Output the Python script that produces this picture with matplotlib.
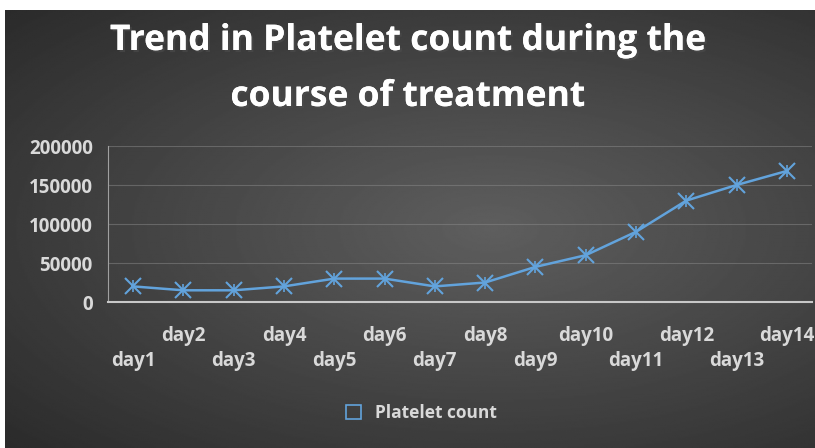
import numpy as np
import matplotlib
matplotlib.use('Agg')
import matplotlib.pyplot as plt
from matplotlib.patches import Patch
import matplotlib.patheffects as pe

days = ['day1', 'day2', 'day3', 'day4', 'day5', 'day6', 'day7',
        'day8', 'day9', 'day10', 'day11', 'day12', 'day13', 'day14']
platelets = [20000, 15000, 15000, 20000, 30000, 30000, 20000,
             25000, 45000, 60000, 90000, 130000, 150000, 168000]
yticks = [0, 50000, 100000, 150000, 200000]

lineColor = '#62a3dc'
textColor = '#d9d9d9'

fig = plt.figure(figsize=(8.15, 4.48), dpi=100)
fig.patch.set_facecolor('white')

# dark radial background panel
bg = fig.add_axes([5/815, 0, 1 - 5/815, 1 - 10/448])
bg.set_axis_off()
yy, xx = np.mgrid[0:1:300j, 0:1:500j]
r = np.sqrt(((xx - 0.6) / 0.9) ** 2 + ((yy - 0.5) / 0.8) ** 2)
shade = np.clip(0.37 - 0.22 * r, 0.17, 0.4)
bg.imshow(shade, cmap='gray', vmin=0, vmax=1, aspect='auto',
          extent=[0, 1, 0, 1], interpolation='bilinear')

ax = fig.add_axes([108/815, 1 - 302/448, (812 - 108)/815, 156/448])
ax.patch.set_alpha(0)
x = np.arange(len(days))
ax.plot(x, platelets, color=lineColor, lw=1.8, marker='x', ms=12, mew=1.5)
# vertical stroke to make the star marker
ax.plot(x, platelets, color=lineColor, lw=0, marker='|', ms=9, mew=1.2)
ax.set_xlim(-0.5, len(days) - 0.5)
ax.set_ylim(0, 200000)
ax.set_yticks(yticks)
ax.set_yticklabels([str(v) for v in yticks])
ax.yaxis.grid(True, color='#8a8a8a', lw=0.8, alpha=0.5)
ax.set_axisbelow(True)
for s in ['top', 'right']:
    ax.spines[s].set_visible(False)
ax.spines['left'].set_color('#a0a0a0')
ax.spines['bottom'].set_color('#c8c8c8')
ax.spines['bottom'].set_linewidth(1.5)
ax.tick_params(axis='y', length=0, pad=11, labelsize=13.5, labelcolor=textColor)
ax.tick_params(axis='x', length=0, labelsize=13.5, labelcolor=textColor)
ax.set_xticks(x)
ax.set_xticklabels(days)
for lab in ax.get_yticklabels() + ax.get_xticklabels():
    lab.set_fontweight('bold')
    lab.set_fontfamily('Open Sans')
# staggered day labels
for i, tick in enumerate(ax.xaxis.get_major_ticks()):
    tick.set_pad(35 if i % 2 == 0 else 17)

shadow = [pe.withSimplePatchShadow(offset=(1.5, -1.5), alpha=0.6), pe.Normal()]
fig.text(0.5, 1 - 41/448, 'Trend in Platelet count during the',
         ha='center', va='center', color='white', fontsize=25.5, fontweight='bold',
         family='Open Sans', path_effects=shadow)
fig.text(0.5, 1 - 97/448, 'course of treatment',
         ha='center', va='center', color='white', fontsize=25.5, fontweight='bold',
         family='Open Sans', path_effects=shadow)

leg = fig.legend(handles=[Patch(facecolor='none', edgecolor=lineColor, lw=1.2)],
                 labels=['Platelet count'], loc='center', bbox_to_anchor=(0.517, 1 - 413/448),
                 frameon=False, handlelength=0.9, handleheight=0.9,
                 prop={'family': 'Open Sans', 'weight': 'bold', 'size': 12.5})
for t in leg.get_texts():
    t.set_color(textColor)

fig.savefig('out.png', dpi=100)
